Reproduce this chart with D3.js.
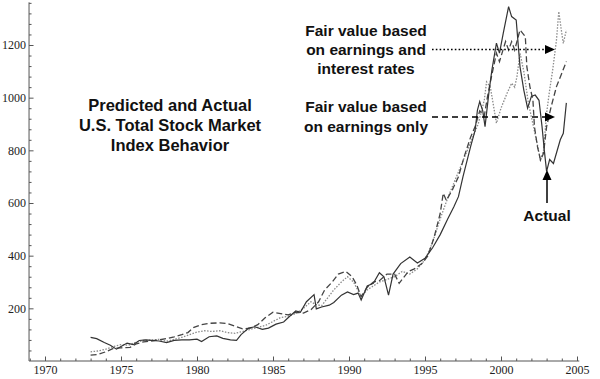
<!DOCTYPE html>
<html><head><meta charset="utf-8">
<script src="https://cdn.jsdelivr.net/npm/d3@7"></script>
<style>body{margin:0;background:#fff}svg{display:block}</style>
</head><body><svg id="c" width="600" height="379"></svg>
<script>
// ---- data ----
const xTickYears = [1970,1975,1980,1985,1990,1995,2000,2005];
const yTickValues = [200,400,600,800,1000,1200];

const actualYears = [1973.0,1973.4,1973.9,1974.3,1974.7,1975.0,1975.4,1975.8,1976.2,1976.6,1977.0,1977.5,1978.0,1978.5,1979.0,1979.5,1980.0,1980.3,1980.8,1981.3,1981.7,1982.2,1982.6,1982.9,1983.4,1983.8,1984.3,1984.7,1985.2,1985.7,1986.1,1986.5,1986.8,1987.2,1987.7,1987.85,1988.2,1988.7,1989.0,1989.5,1989.9,1990.3,1990.6,1990.8,1991.2,1991.6,1992.0,1992.3,1992.6,1992.9,1993.4,1994.0,1994.5,1995.0,1995.5,1996.0,1996.5,1996.9,1997.2,1997.5,1998.0,1998.3,1998.45,1998.6,1998.8,1998.95,1999.2,1999.4,1999.7,1999.9,2000.15,2000.5,2000.7,2001.0,2001.25,2001.5,2001.75,2002.0,2002.25,2002.5,2002.7,2002.85,2003.0,2003.2,2003.45,2003.9,2004.1,2004.3];
const actualValues = [90,85,70,60,45,55,68,62,78,80,78,76,70,78,80,80,83,74,92,95,86,80,78,100,125,130,120,125,140,148,170,190,185,225,252,198,205,212,222,250,262,252,258,232,285,295,335,320,250,330,370,395,372,390,430,480,540,586,624,700,814,877,953,985,950,890,1017,1105,1207,1169,1245,1346,1308,1295,1118,1029,960,1005,1010,990,890,800,720,765,750,840,865,980];

const earnYears = [1973.0,1973.5,1974.0,1974.5,1975.0,1975.6,1976.0,1976.5,1977.0,1977.5,1978.0,1978.5,1979.0,1979.4,1979.8,1980.3,1980.8,1981.5,1982.0,1982.5,1983.0,1983.5,1984.0,1984.5,1985.0,1985.5,1986.0,1986.5,1987.0,1987.5,1988.0,1988.4,1988.9,1989.3,1989.8,1990.2,1990.5,1990.8,1991.2,1991.6,1992.0,1992.5,1993.0,1993.3,1993.9,1994.3,1994.8,1995.2,1995.6,1996.0,1996.2,1996.4,1996.8,1997.2,1997.6,1998.0,1998.3,1998.6,1998.9,1999.1,1999.3,1999.7,1999.9,2000.3,2000.5,2000.7,2000.9,2001.25,2001.6,2001.7,2001.9,2002.1,2002.2,2002.4,2002.6,2002.8,2003.0,2003.3,2003.65,2004.0,2004.3];
const earnValues = [22,25,35,48,50,52,65,73,76,80,85,92,100,108,128,138,143,145,142,132,122,125,138,165,185,180,175,185,182,195,225,270,300,330,340,320,290,245,280,300,305,330,330,295,340,350,370,400,470,560,637,610,650,700,780,850,890,950,930,1000,1060,1169,1137,1213,1181,1213,1181,1257,1232,1118,1042,991,890,814,763,789,890,966,1042,1093,1137];

const rateYears = [1973.0,1973.5,1974.0,1974.5,1975.0,1975.5,1976.0,1976.5,1977.0,1977.5,1978.0,1978.5,1979.0,1979.5,1980.0,1980.5,1981.0,1981.5,1982.0,1982.5,1983.0,1983.5,1984.0,1984.5,1985.0,1985.5,1986.0,1986.5,1987.0,1987.5,1987.8,1988.2,1988.6,1989.0,1989.5,1989.9,1990.3,1990.8,1991.2,1991.6,1992.0,1992.5,1993.0,1993.5,1994.0,1994.5,1995.0,1995.5,1996.0,1996.5,1997.0,1997.5,1998.0,1998.5,1998.9,1999.05,1999.3,1999.7,2000.0,2000.4,2000.7,2000.9,2001.05,2001.25,2001.5,2001.8,2002.1,2002.4,2002.6,2002.8,2003.0,2003.2,2003.4,2003.65,2003.8,2004.0,2004.1,2004.3];
const rateValues = [35,38,45,55,62,60,72,78,80,82,75,82,90,100,110,115,112,115,108,105,112,120,128,135,150,165,170,180,200,225,215,210,240,270,300,320,300,245,270,285,300,310,320,340,330,350,385,450,540,620,690,760,830,900,990,1060,1040,903,960,1017,1055,1040,1080,1169,1100,980,900,820,760,800,941,1029,1105,1219,1327,1244,1206,1257];

const titleLines = ["Predicted and Actual","U.S. Total Stock Market","Index Behavior"];
const noteRates = ["Fair value based","on earnings and","interest rates"];
const noteEarn = ["Fair value based","on earnings only"];
const noteActual = "Actual";

// ---- scales ----
const svg = d3.select("#c");
const x = d3.scaleLinear().domain([1970,2005]).range([45,577]);
const y = d3.scaleLinear().domain([0,1200]).range([361,45]);
const xMin = 1968.95, xMax = 2005.15, yMax = 1362;
const axisColor = "#555";

// axis lines
svg.append("line").attr("x1",x(xMin)).attr("x2",x(xMax)).attr("y1",y(0)).attr("y2",y(0)).attr("stroke",axisColor).attr("stroke-width",1);
svg.append("line").attr("x1",x(xMin)).attr("x2",x(xMin)).attr("y1",y(0)).attr("y2",y(yMax)).attr("stroke",axisColor).attr("stroke-width",1);

const serif = "'Liberation Serif','Times New Roman',serif";
// x axis major
const gx = svg.append("g").attr("transform",`translate(0,${y(0)})`)
  .call(d3.axisBottom(x).tickValues(xTickYears).tickSize(-4.5).tickPadding(4).tickFormat(d3.format("d")));
gx.select(".domain").remove();
gx.selectAll("line").attr("stroke",axisColor);
gx.selectAll("text").attr("font-family",serif).attr("font-size",12).attr("fill","#222");
// x minor
const gxm = svg.append("g").attr("transform",`translate(0,${y(0)})`)
  .call(d3.axisBottom(x).tickValues(d3.range(1969,2006).filter(v=>v%5!==0)).tickSize(-2.5).tickFormat(""));
gxm.select(".domain").remove();
gxm.selectAll("line").attr("stroke",axisColor);

// y axis major
const yAxisX = x(xMin);
const gy = svg.append("g").attr("transform",`translate(${yAxisX},0)`)
  .call(d3.axisLeft(y).tickValues(yTickValues).tickSize(-4.5).tickPadding(3).tickFormat(d3.format("d")));
gy.select(".domain").remove();
gy.selectAll("line").attr("stroke",axisColor);
gy.selectAll("text").attr("font-family",serif).attr("font-size",12).attr("fill","#222");
const gym = svg.append("g").attr("transform",`translate(${yAxisX},0)`)
  .call(d3.axisLeft(y).tickValues(d3.range(40,1361,40).filter(v=>v%200!==0)).tickSize(-2.5).tickFormat(""));
gym.select(".domain").remove();
gym.selectAll("line").attr("stroke",axisColor);

// ---- series ----
const line = d3.line().x(d=>x(d[0])).y(d=>y(d[1]));
const zip = (a,b)=>a.map((v,i)=>[v,b[i]]);
svg.append("path").datum(zip(rateYears,rateValues)).attr("d",line).attr("fill","none")
  .attr("stroke","#8a8a8a").attr("stroke-width",1.3).attr("stroke-dasharray","1.5,1.5");
svg.append("path").datum(zip(earnYears,earnValues)).attr("d",line).attr("fill","none")
  .attr("stroke","#444").attr("stroke-width",1.3).attr("stroke-dasharray","6,3");
svg.append("path").datum(zip(actualYears,actualValues)).attr("d",line).attr("fill","none")
  .attr("stroke","#333").attr("stroke-width",1.2);

// ---- text ----
const bold = "'Liberation Sans',Arial,Helvetica,sans-serif";
function block(lines, cx, y0, dy, size){
  svg.append("text").attr("font-family",bold).attr("font-weight","bold").attr("font-size",size)
    .attr("text-anchor","middle").attr("fill","#111")
    .selectAll("tspan").data(lines).join("tspan").attr("x",cx).attr("y",(d,i)=>y0+i*dy).text(d=>d);
}
block(titleLines, 170, 111, 20, 16.5);
block(noteRates, 366, 36, 19, 15.5);
block(noteEarn, 366, 112, 20, 15.5);
block([noteActual], 547, 221, 20, 15.5);

// ---- arrows ----
function arrowHead(tx, ty, dir){
  const p = dir==="right" ? [[tx,ty],[tx-10,ty-4.5],[tx-10,ty+4.5]] : [[tx,ty],[tx-4.5,ty+10],[tx+4.5,ty+10]];
  svg.append("path").attr("d",d3.line()(p)+"Z").attr("fill","#000");
}
svg.append("line").attr("x1",432).attr("x2",546).attr("y1",49.5).attr("y2",49.5).attr("stroke","#000").attr("stroke-width",1.5).attr("stroke-dasharray","1.6,2.2");
arrowHead(555,49.5,"right");
svg.append("line").attr("x1",432).attr("x2",546).attr("y1",117).attr("y2",117).attr("stroke","#000").attr("stroke-width",1.5).attr("stroke-dasharray","6,4");
arrowHead(555,117,"right");
svg.append("line").attr("x1",547).attr("x2",547).attr("y1",203).attr("y2",178).attr("stroke","#000").attr("stroke-width",1.5);
arrowHead(547,170,"up");
</script></body></html>
